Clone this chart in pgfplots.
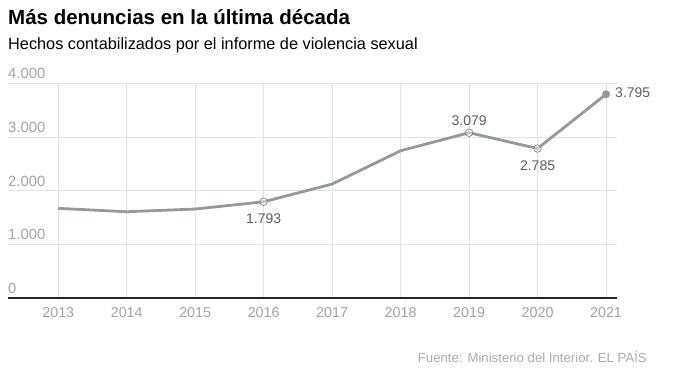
\documentclass[border=0pt]{standalone}
\usepackage{fontspec}
\setmainfont{Liberation Sans}
\usepackage{pgfplots}
\pgfplotsset{compat=1.18}
\definecolor{linegray}{HTML}{959A98}
\definecolor{gridgray}{HTML}{E2E2E2}
\definecolor{ticktext}{HTML}{A3A3A3}
\definecolor{labeltext}{HTML}{5E5E5E}
\definecolor{srctext}{HTML}{ABABAB}
\begin{document}
\begin{tikzpicture}[x=1pt,y=1pt]
\useasboundingbox (0,0) rectangle (681,374);
\node[anchor=base west, inner sep=0] at (8,349) {\fontsize{20.5}{24}\selectfont\bfseries Más denuncias en la última década};
\node[anchor=base west, inner sep=0] at (8,324) {\fontsize{16.3}{19}\selectfont Hechos contabilizados por el informe de violencia sexual};
\node[anchor=base east, inner sep=0, text=srctext] at (647,11) {\fontsize{13.2}{15}\selectfont Fuente: Ministerio del Interior. EL PAÍS};
\begin{axis}[
  at={(8pt,76pt)}, anchor=south west,
  scale only axis, width=609pt, height=214.7pt,
  xmin=2012.266, xmax=2021.16, ymin=0, ymax=4000,
  axis x line=bottom, axis y line=left,
  x axis line style={draw=black!85, line width=1.1pt, -},
  y axis line style={draw=none},
  xtick={2013,2014,2015,2016,2017,2018,2019,2020,2021},
  xticklabels={2013,2014,2015,2016,2017,2018,2019,2020,2021},
  ytick={0,1000,2000,3000,4000},
  yticklabels={0,1.000,2.000,3.000,4.000},
  major tick length=0pt,
  xmajorgrids, ymajorgrids,
  grid style={draw=gridgray, line width=0.9pt},
  xticklabel style={font=\fontsize{14.3}{16}\selectfont, text=ticktext, anchor=north, inner sep=0pt, yshift=-9pt},
  yticklabel style={font=\fontsize{14.8}{16}\selectfont, text=ticktext, anchor=south west, inner sep=0pt, yshift=4pt},
  clip=false,
]
\addplot[linegray, line width=2.8pt, line join=round] coordinates {
(2013,1670) (2014,1607) (2015,1657) (2016,1793) (2017,2123)
(2018,2743) (2019,3079) (2020,2785) (2021,3795)};
\addplot[only marks, mark=*, mark size=3.8pt, mark options={draw=linegray!80!black, fill=white, fill opacity=0.4, line width=0.6pt}] coordinates {
(2016,1793) (2019,3079) (2020,2785)};
\addplot[only marks, mark=*, mark size=3.8pt, mark options={draw=linegray, fill=linegray}] coordinates {(2021,3795)};
\node[text=labeltext, font=\fontsize{14}{16}\selectfont, inner sep=0pt] at (axis cs:2016,1793) [yshift=-17pt] {1.793};
\node[text=labeltext, font=\fontsize{14}{16}\selectfont, inner sep=0pt] at (axis cs:2019,3079) [yshift=12pt] {3.079};
\node[text=labeltext, font=\fontsize{14}{16}\selectfont, inner sep=0pt] at (axis cs:2020,2785) [yshift=-17pt] {2.785};
\node[text=labeltext, font=\fontsize{14}{16}\selectfont, inner sep=0pt, anchor=west] at (axis cs:2021,3795) [xshift=9pt, yshift=2pt] {3.795};
\end{axis}
\end{tikzpicture}
\end{document}
